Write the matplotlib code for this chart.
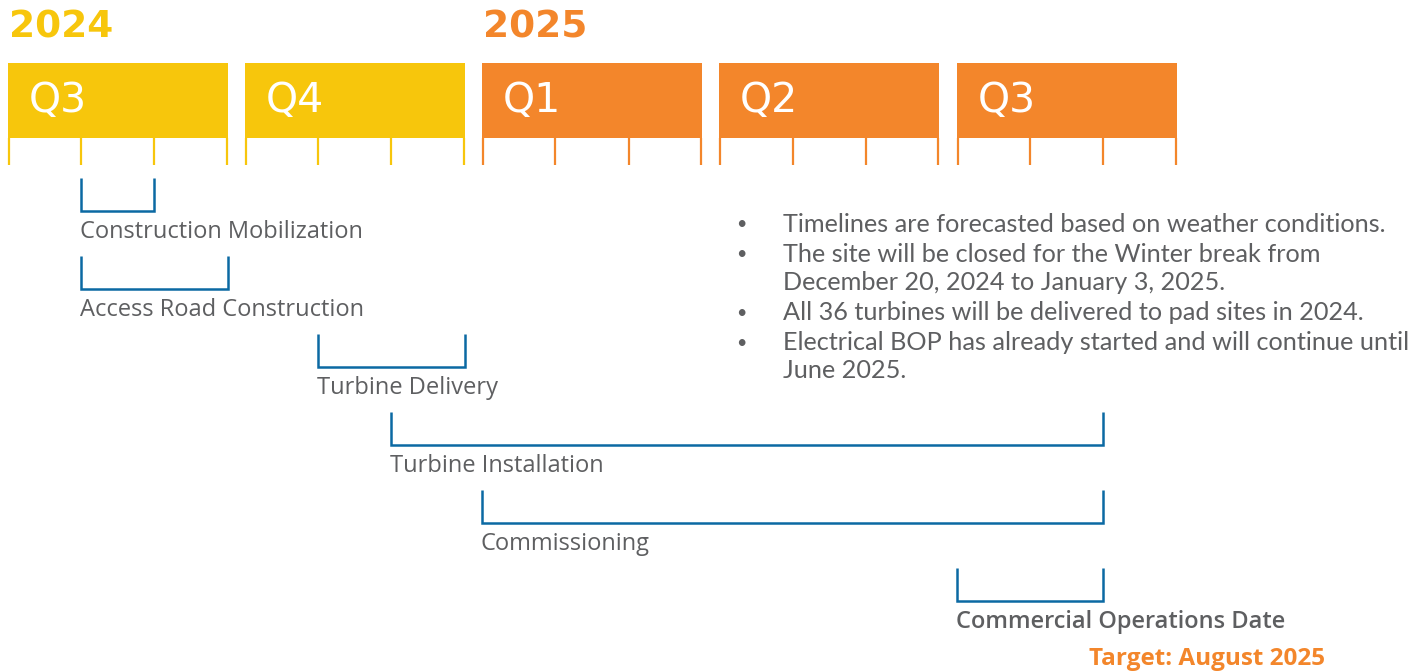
import matplotlib.pyplot as plt
from matplotlib.patches import Rectangle

years = ["2024", "2025"]
year_first_quarter = [0, 2]
quarters = ["Q3", "Q4", "Q1", "Q2", "Q3"]
quarter_year = [0, 0, 1, 1, 1]

tasks = ["Construction Mobilization", "Access Road Construction", "Turbine Delivery",
         "Turbine Installation", "Commissioning", "Commercial Operations Date"]
# months counted from July 2024 (0 = start of July)
task_start = [1, 1, 4, 5, 6, 12]
task_end = [2, 3, 6, 14, 14, 14]

notes = [
    "Timelines are forecasted based on weather conditions.",
    "The site will be closed for the Winter break from\nDecember 20, 2024 to January 3, 2025.",
    "All 36 turbines will be delivered to pad sites in 2024.",
    "Electrical BOP has already started and will continue until\nJune 2025.",
]
target = "Target: August 2025"

year_colors = ["#F7C60C", "#F3862B"]
blue = "#0B69A3"
gray = "#5E5F61"

W, H = 1424, 671
fig = plt.figure(figsize=(W / 100, H / 100), dpi=100)
ax = fig.add_axes([0, 0, 1, 1])
ax.set_xlim(0, W)
ax.set_ylim(H, 0)
ax.axis("off")

x0, qw, gap = 7.5, 220, 17.25
mw = qw / 3


def mx(m, end=False):
    q = (m - 1) // 3 if end else m // 3
    q = min(q, len(quarters) - 1)
    return x0 + q * (qw + gap) + (m - 3 * q) * mw


wide = ["DejaVu Sans"]
head = ["Open Sans", "DejaVu Sans"]
body = ["Lato", "DejaVu Sans"]

# years
for y, q, c in zip(years, year_first_quarter, year_colors):
    ax.text(x0 + q * (qw + gap) + 1, 27, y, color=c,
            fontsize=27, fontweight="bold", family=wide, va="center", ha="left")

# quarter boxes and month ticks
for i, (q, yi) in enumerate(zip(quarters, quarter_year)):
    left = x0 + i * (qw + gap)
    c = year_colors[yi]
    ax.add_patch(Rectangle((left, 63), qw, 75, color=c, lw=0))
    ax.text(left + 21, 101, q, color="white", fontsize=29.5, family=wide,
            va="center", ha="left")
    for k in range(4):
        xt = left + k * mw
        xt = min(max(xt, left + 1), left + qw - 1)
        ax.plot([xt, xt], [138, 165], color=c, lw=1.6, solid_capstyle="butt")

# task brackets
for i, (name, s, e) in enumerate(zip(tasks, task_start, task_end)):
    top = 178 + 78 * i
    bot = top + 33
    xs, xe = mx(s), mx(e, end=True)
    ax.plot([xs, xs, xe, xe], [top, bot, bot, top], color=blue, lw=1.8,
            solid_joinstyle="miter", solid_capstyle="butt")
    bold = name == "Commercial Operations Date"
    ax.text(xs - 1, bot + 21, name, color=gray, fontsize=17, family=head,
            fontweight="semibold" if bold else "normal", va="center", ha="left")

# notes
ny = 224
for n in notes:
    ax.text(741, ny, "\u2022", color=gray, fontsize=13, family=body, va="center", ha="center")
    for line in n.split("\n"):
        ax.text(783, ny, line, color=gray, fontsize=18.2, family=body,
                va="center", ha="left")
        ny += 28.5
    ny += 1.5

ax.text(1207, 659, target, color=year_colors[1], fontsize=17.5, fontweight="bold",
        family=head, va="center", ha="center")

fig.savefig("out.png", dpi=100)
